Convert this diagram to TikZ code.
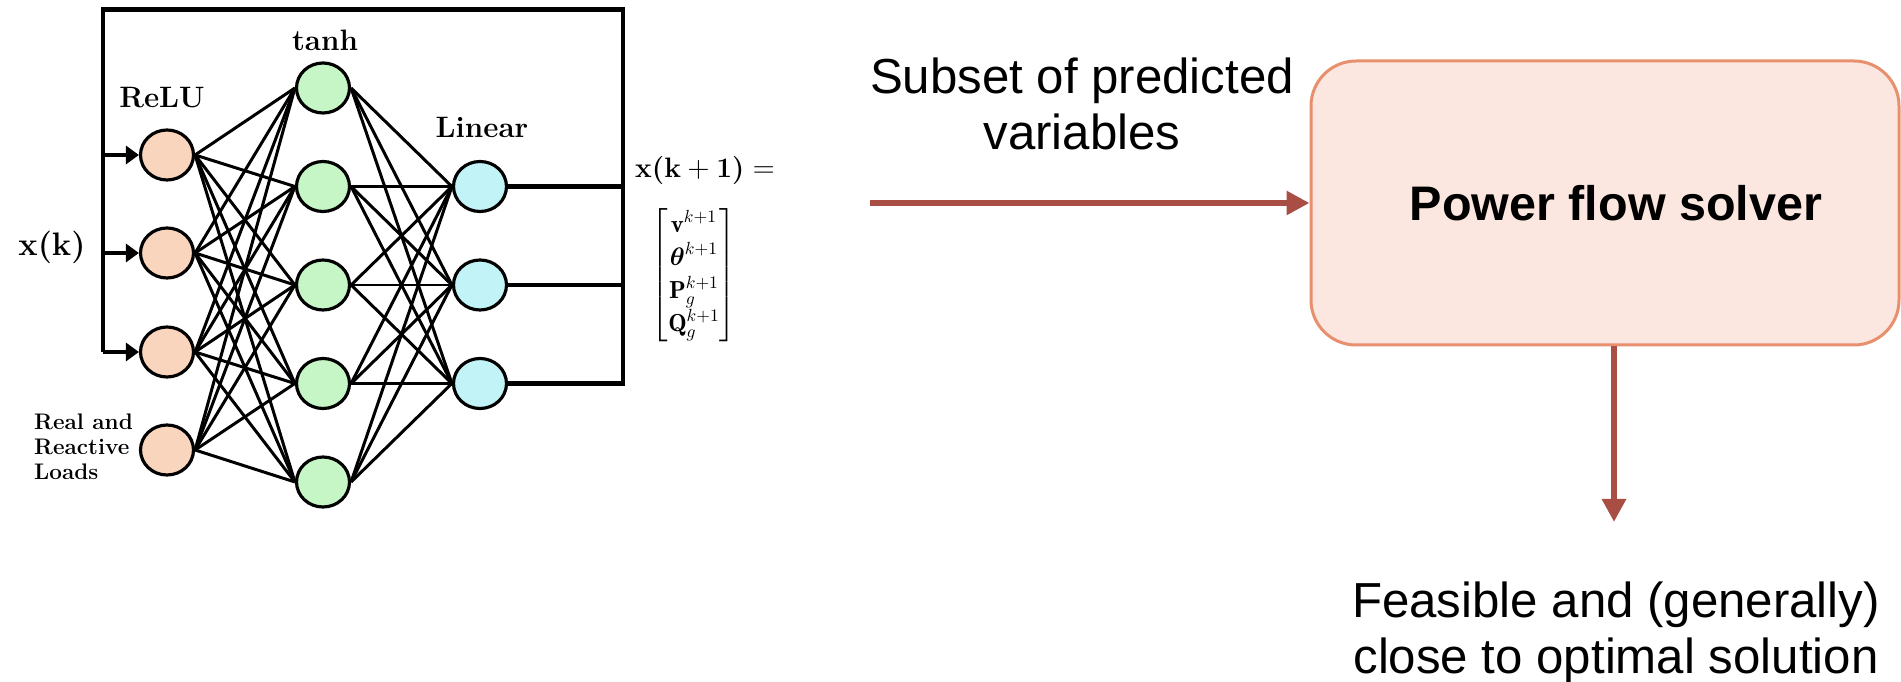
\documentclass[tikz,border=0pt]{standalone}
\usepackage{amsmath,amssymb}
\usepackage{fontspec}
\newfontfamily\helv{Liberation Sans}
\usetikzlibrary{arrows.meta,shapes.geometric}
\definecolor{reluc}{HTML}{F9D5BE}
\definecolor{tanhc}{HTML}{C6F5C6}
\definecolor{linc}{HTML}{C2F4F7}
\definecolor{boxfill}{HTML}{FBE7DF}
\definecolor{boxline}{HTML}{E8906E}
\definecolor{flowc}{HTML}{A94E45}

\begin{document}
\begin{tikzpicture}[x=0.2mm,y=0.2mm,
  neuron/.style={ellipse,draw,line width=1.8pt,minimum width=10.6mm,minimum height=10mm,inner sep=0pt},
  relun/.style={neuron,fill=reluc},
  tanhn/.style={neuron,fill=tanhc},
  linn/.style={neuron,fill=linc},
  wire/.style={line width=1.7pt},
  frame/.style={line width=2.6pt},
  lbl/.style={font=\fontsize{16.8}{20}\selectfont\bfseries},
  txt/.style={font=\helv\fontsize{28}{32}\selectfont,align=center,inner sep=0pt},
  flow/.style={draw=flowc,line width=1.2mm,-{Triangle[length=4.6mm,width=4.6mm]}},
  solver/.style={rectangle,rounded corners=9mm,draw=boxline,fill=boxfill,line width=0.6mm,
    minimum width=117.6mm,minimum height=56.8mm,font=\helv\bfseries\fontsize{27.6}{32}\selectfont}]
  \useasboundingbox (0,0) rectangle (1901,682);
  % 网络的三层
  \foreach \y [count=\i] in {527,429,330,232} \node[relun] (r\i) at (167,\y) {};
  \foreach \y [count=\i] in {594,495.5,397,298.5,200} \node[tanhn] (t\i) at (323,\y) {};
  \foreach \y [count=\i] in {495.5,397,298.5} \node[linn] (l\i) at (480,\y) {};
  \foreach \i in {1,...,4} \foreach \j in {1,...,5} \draw[wire] (r\i.east) -- (t\j.west);
  \foreach \j in {1,...,5} \foreach \k in {1,2,3} \draw[wire] (t\j.east) -- (l\k.west);
  % 外框与回路
  \coordinate (fl) at (103,672.5);
  \coordinate (fr) at (623,672.5);
  \draw[frame] (r3.west -| fl) -- (fl) -- (fr) -- (l3.east -| fr) -- (l3.east);
  \draw[frame] (l1.east) -- (l1.east -| fr) (l2.east) -- (l2.east -| fr);
  \foreach \i in {1,2,3} \draw[frame,-{Triangle[length=2.6mm,width=3.6mm]}] (r\i.west -| fl) -- (r\i.west);
  % 标注
  \node[lbl] (tanhlbl) at (325,642) {tanh};
  \node[lbl] (relulbl) at (162,584) {ReLU};
  \node[lbl] (linlbl) at (482,555) {Linear};
  \node[font=\fontsize{18.5}{22}\selectfont] (xk) at (52,435) {\textbf{x(k)}};
  \node[font=\fontsize{12.8}{14.2}\selectfont\bfseries,align=left,anchor=west] (loads) at (28,235) {Real and\\Reactive\\Loads};
  \node[font=\fontsize{16}{19}\selectfont] (xnext) at (705,512) {$\textbf{x(k}+\textbf{1)} =$};
  \node[font=\fontsize{14}{18.8}\selectfont] (vec) at (694,407)
    {$\begin{bmatrix}\mathbf{v}^{k+1}\\ \boldsymbol{\theta}^{k+1}\\ \mathbf{P}_g^{k+1}\\ \mathbf{Q}_g^{k+1}\end{bmatrix}$};
  % 潮流求解
  \node[solver] (pfs) at (1605,479) {\hspace*{4.4mm}Power flow solver};
  \coordinate (sub) at (870,479);
  \draw[flow] (sub) -- (pfs.west);
  \node[txt,anchor=north] (subtxt) at (1082,625) {Subset of predicted\\variables};
  \coordinate (sol) at (1614,160);
  \draw[flow] (pfs.south -| sol) -- (sol);
  \node[txt,anchor=north] (res) at (1616,101) {Feasible and (generally)\\close to optimal solution};
\end{tikzpicture}
\end{document}
